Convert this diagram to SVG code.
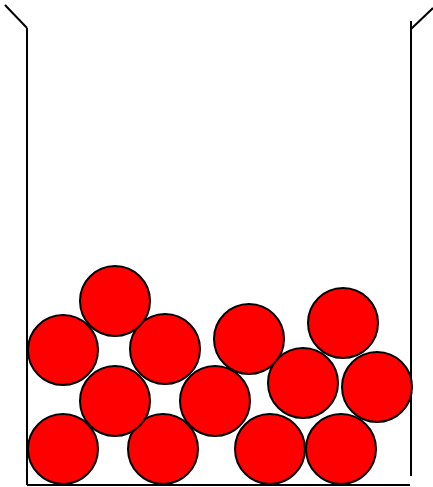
<svg xmlns="http://www.w3.org/2000/svg" width="433" height="487" viewBox="0 0 433 487">
<style>
.ball{fill:#ff0000;stroke:#000;stroke-width:2}
.wall{stroke:#000;stroke-width:2;fill:none}
</style>
<rect width="433" height="487" fill="#fff"/>
<g id="container">
<line class="wall" x1="5" y1="5" x2="27" y2="28"/>
<line class="wall" x1="27" y1="28" x2="27" y2="485"/>
<line class="wall" x1="411" y1="21" x2="411" y2="476"/>
<line class="wall" x1="411" y1="29" x2="433" y2="8"/>
<line class="wall" x1="27" y1="485" x2="410" y2="485"/>
</g>
<g id="balls">
<circle id="b1" class="ball" cx="63" cy="449" r="35"/>
<circle id="b2" class="ball" cx="163" cy="449" r="35"/>
<circle id="b3" class="ball" cx="270" cy="449" r="35"/>
<circle id="b4" class="ball" cx="341" cy="449" r="35"/>
<circle id="b5" class="ball" cx="115" cy="401" r="35"/>
<circle id="b6" class="ball" cx="215" cy="401" r="35"/>
<circle id="b7" class="ball" cx="63" cy="350" r="35"/>
<circle id="b9" class="ball" cx="165" cy="349" r="35"/>
<circle id="b8" class="ball" cx="115" cy="301" r="35"/>
<circle id="b10" class="ball" cx="249" cy="339" r="35"/>
<circle id="b11" class="ball" cx="343" cy="323" r="35"/>
<circle id="b12" class="ball" cx="303" cy="383" r="35"/>
<circle id="b13" class="ball" cx="377" cy="387" r="35"/>
</g>
</svg>
